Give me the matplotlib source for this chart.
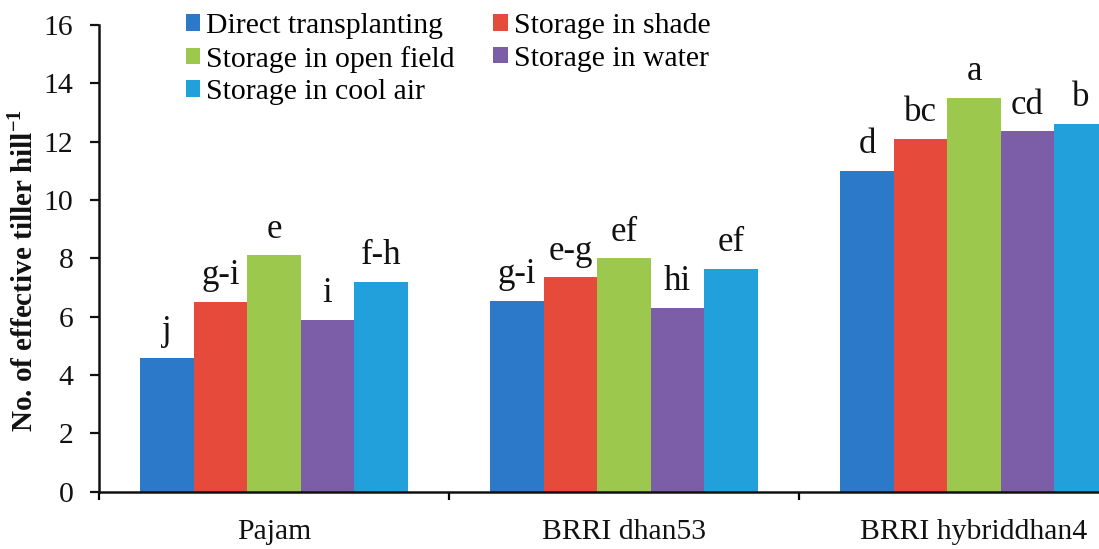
import matplotlib
matplotlib.use("Agg")
import matplotlib.pyplot as plt
import numpy as np

# Data: number of effective tillers per hill
varieties = ["Pajam", "BRRI dhan53", "BRRI hybriddhan4"]
treatments = ["Direct transplanting", "Storage in shade", "Storage in open field",
              "Storage in water", "Storage in cool air"]
direct_transplanting = [4.6, 6.55, 11.0]
storage_shade = [6.5, 7.35, 12.1]
storage_open_field = [8.1, 8.0, 13.5]
storage_water = [5.9, 6.3, 12.35]
storage_cool_air = [7.2, 7.65, 12.6]
series = [direct_transplanting, storage_shade, storage_open_field,
          storage_water, storage_cool_air]
letters = [
    ["j", "g-i", "d"],
    ["g-i", "e-g", "bc"],
    ["e", "ef", "a"],
    ["i", "hi", "cd"],
    ["f-h", "ef", "b"],
]
colors = ["#2C78C9", "#E64A3B", "#9CC84E", "#7C5EA8", "#22A0DC"]

plt.rcParams["font.family"] = ["Liberation Serif", "DejaVu Serif"]
plt.rcParams["mathtext.fontset"] = "custom"
plt.rcParams["mathtext.rm"] = "Liberation Serif"
plt.rcParams["mathtext.bf"] = "Liberation Serif:bold"

fig = plt.figure(figsize=(10.99, 5.49), dpi=100)
ax = fig.add_axes([99 / 1099, 57.3 / 549, 1050 / 1099, 466.7 / 549])

x = np.arange(len(varieties))
w = 0.1526
bars = []
for i, (vals, col, lab) in enumerate(zip(series, colors, treatments)):
    b = ax.bar(x + (i - 2) * w, vals, width=w, color=col, label=lab,
               edgecolor="none", zorder=2)
    bars.append(b)
    for xi, v, t in zip(x + (i - 2) * w, vals, letters[i]):
        ax.annotate(t, (xi, v), xytext=(0, 7), textcoords="offset points",
                    ha="center", va="bottom", fontsize=25, color="#111111")

ax.set_xlim(-0.5, 2.5)
ax.set_ylim(0, 16)
ax.set_yticks(np.arange(0, 17, 2))
ax.tick_params(axis="y", direction="out", length=6.5, width=1.6, pad=12,
               labelsize=21.4, colors="#111111")
ax.set_xticks([-0.5, 0.5, 1.5, 2.5])
ax.set_xticklabels([])
ax.set_xticks(x, minor=True)
ax.set_xticklabels(varieties, minor=True, fontsize=21.4, color="#111111")
ax.tick_params(axis="x", which="major", direction="out", length=6, width=1.6)
ax.tick_params(axis="x", which="minor", length=0, pad=20)

for s in ["top", "right"]:
    ax.spines[s].set_visible(False)
for s in ["left", "bottom"]:
    ax.spines[s].set_linewidth(1.8)
    ax.spines[s].set_color("#111111")

ax.set_ylabel(r"No. of effective tiller hill$^{\mathbf{-1}}$", fontsize=21,
              fontweight="bold", va="center", color="#111111")
ax.yaxis.set_label_coords(-0.0724, 0.473)

order = [0, 2, 4, 1, 3]
leg = ax.legend([bars[k] for k in order], [treatments[k] for k in order],
                ncol=2, loc="upper left", bbox_to_anchor=(186 / 1099, 536 / 549),
                bbox_transform=fig.transFigure, frameon=False, fontsize=21.4,
                borderpad=0, borderaxespad=0, handlelength=0.48,
                handleheight=0.48, handletextpad=0.2, labelspacing=0.22,
                columnspacing=1.3)

fig.savefig("out.png", dpi=100)
